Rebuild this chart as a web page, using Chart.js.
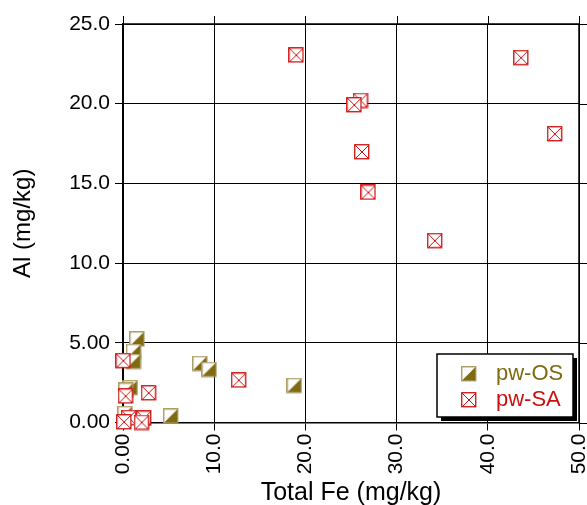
<!DOCTYPE html>
<html><head><meta charset="utf-8">
<script src="https://cdn.jsdelivr.net/npm/chart.js@4"></script>
<style>
html,body{margin:0;padding:0;overflow:hidden;background:#fff;width:587px;height:505px}
#wrap{position:absolute;left:0;top:0;width:620px;height:540px}
</style>
</head><body><div id="wrap"><canvas id="c" width="620" height="540"></canvas></div>
<script>
const seriesNames = ['pw-OS', 'pw-SA'];
const osFe = [1.56, 1.19, 1.17, 8.45, 9.47, 18.8, 0.82, 0.35, 0.25, 5.25];
const osAl = [5.23, 4.45, 3.82, 3.69, 3.32, 2.31, 2.18, 2.01, 0.55, 0.39];
const saFe = [19.0, 43.65, 26.05, 25.36, 47.35, 26.2, 26.9, 34.2, 0.04, 12.7, 2.82, 0.29, 0.64, 2.3, 0.13, 2.05];
const saAl = [23.04, 22.88, 20.2, 19.92, 18.1, 16.97, 14.43, 11.4, 3.87, 2.65, 1.85, 1.65, 0.3, 0.26, 0.03, 0.0];
const xTickLabels = ['0.00', '10.0', '20.0', '30.0', '40.0', '50.0'];
const yTickLabels = ['0.00', '5.00', '10.0', '15.0', '20.0', '25.0'];
const xTitle = 'Total Fe (mg/kg)';
const yTitle = 'Al (mg/kg)';

const OLIVE = '#7f6a12';
const OLIVE_EDGE = '#a49458';
const RED = '#cc1010';
const FONT = '"Liberation Sans", Arial, sans-serif';

function makeOS(size) {
  const c = document.createElement('canvas');
  c.width = size; c.height = size;
  const g = c.getContext('2d');
  const s = size - 1;
  g.fillStyle = '#fff'; g.fillRect(0.5, 0.5, s - 0.5, s - 0.5);
  g.fillStyle = OLIVE;
  g.beginPath(); g.moveTo(0.5, s); g.lineTo(s, s); g.lineTo(s, 0.5); g.closePath(); g.fill();
  g.strokeStyle = OLIVE_EDGE; g.lineWidth = 1.3;
  g.strokeRect(0.75, 0.75, s - 1, s - 1);
  return c;
}
function makeSA(size) {
  const c = document.createElement('canvas');
  c.width = size; c.height = size;
  const g = c.getContext('2d');
  const s = size - 1;
  g.fillStyle = '#fff'; g.fillRect(0.5, 0.5, s - 0.5, s - 0.5);
  g.strokeStyle = RED; g.lineWidth = 1.3;
  g.strokeRect(0.75, 0.75, s - 1, s - 1);
  g.lineWidth = 1;
  g.beginPath();
  g.moveTo(1, 1); g.lineTo(s, s);
  g.moveTo(s, 1); g.lineTo(1, s);
  g.stroke();
  return c;
}
const osImg = makeOS(16), saImg = makeSA(16);

const frameTicks = {
  id: 'frameTicks',
  beforeDatasetsDraw(chart) {
    const {ctx, chartArea: a, scales: {x, y}} = chart;
    ctx.save();
    ctx.strokeStyle = '#000'; ctx.lineWidth = 1;
    ctx.beginPath();
    x.ticks.forEach(t => { const px = Math.round(x.getPixelForValue(t.value)) + 0.5; ctx.moveTo(px, a.top); ctx.lineTo(px, a.top - 8); });
    y.ticks.forEach(t => { const py = Math.round(y.getPixelForValue(t.value)) + 0.5; ctx.moveTo(a.right, py); ctx.lineTo(a.right + 8, py); });
    ctx.stroke();
    ctx.lineWidth = 1.5;
    ctx.beginPath();
    ctx.moveTo(a.left, a.top); ctx.lineTo(a.right, a.top); ctx.lineTo(a.right, a.bottom);
    ctx.stroke();
    ctx.restore();
  }
};

const boxLegend = {
  id: 'boxLegend',
  afterDraw(chart) {
    const ctx = chart.ctx;
    const L = 437, T = 354, W = 136, H = 63;
    ctx.save();
    ctx.fillStyle = '#000';
    ctx.fillRect(L + 4, T + 4, W, H);
    ctx.fillStyle = '#fff';
    ctx.fillRect(L, T, W, H);
    ctx.strokeStyle = '#000'; ctx.lineWidth = 1.5;
    ctx.strokeRect(L, T, W, H);
    const rows = [
      {img: osImg, color: OLIVE, y: 374},
      {img: saImg, color: RED, y: 400}
    ];
    ctx.font = '22px ' + FONT;
    ctx.textBaseline = 'middle';
    rows.forEach((r, i) => {
      ctx.drawImage(r.img, 461, r.y - 8);
      ctx.fillStyle = r.color;
      ctx.fillText(seriesNames[i], 496, r.y);
    });
    ctx.restore();
  }
};

function pts(xs, ys) { return xs.map((v, i) => ({x: v, y: ys[i]})); }

new Chart(document.getElementById('c'), {
  type: 'scatter',
  data: {
    datasets: [
      {label: seriesNames[0], data: pts(osFe, osAl), pointStyle: osImg, pointRadius: 8, pointHoverRadius: 8, order: 2, clip: false},
      {label: seriesNames[1], data: pts(saFe, saAl), pointStyle: saImg, pointRadius: 8, pointHoverRadius: 8, order: 1, clip: false}
    ]
  },
  options: {
    responsive: false,
    animation: false,
    events: [],
    layout: {padding: {left: 0, top: 24, right: 41, bottom: 27.5}},
    plugins: {legend: {display: false}, tooltip: {enabled: false}, title: {display: false}},
    scales: {
      x: {
        type: 'linear', min: 0, max: 50,
        afterFit: s => { s.height = 90; },
        grid: {color: '#000', lineWidth: 1, tickLength: 8, drawTicks: true},
        border: {display: true, color: '#000', width: 1.5},
        ticks: {stepSize: 10, autoSkip: false, minRotation: 90, maxRotation: 90, padding: 3,
          color: '#000', font: {family: FONT, size: 21},
          callback: v => xTickLabels[Math.round(v / 10)]},
        title: {display: true, text: xTitle, color: '#000', font: {family: FONT, size: 25}, padding: {top: 0, bottom: 4}}
      },
      y: {
        type: 'linear', min: 0, max: 25,
        afterFit: s => { s.width = 123; },
        grid: {color: '#000', lineWidth: 1, tickLength: 8, drawTicks: true},
        border: {display: true, color: '#000', width: 1.5},
        ticks: {stepSize: 5, padding: 5, color: '#000', font: {family: FONT, size: 21},
          callback: v => yTickLabels[Math.round(v / 5)]},
        title: {display: true, text: yTitle, color: '#000', font: {family: FONT, size: 24}, padding: {top: 9, bottom: 0}}
      }
    }
  },
  plugins: [frameTicks, boxLegend]
});
</script>
</body></html>
